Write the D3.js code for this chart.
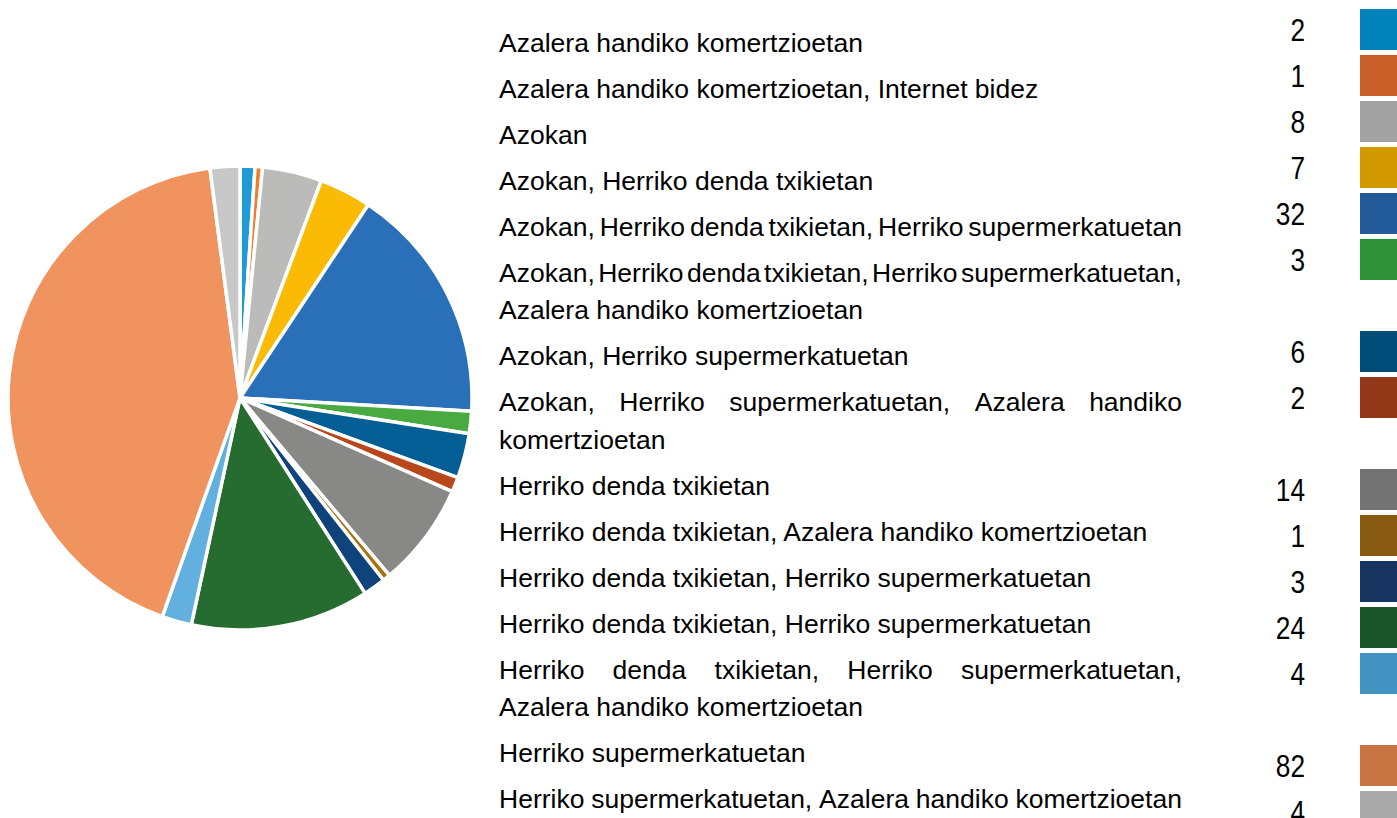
<!DOCTYPE html>
<html>
    <head>
        <meta charset="utf-8">
        <style>
            body {
                margin: 0;
                background: #ffffff;
            }
            svg {
                display: block;
            }
            .lbl, .val {
                font-family: 'Liberation Sans Narrow', 'Arial Narrow', 'Liberation Sans', Arial, sans-serif;
                fill: #000000;
            }
        </style>
    </head>
    <body>
        <svg width="1397" height="818"></svg>

        <script src="https://d3js.org/d3.v7.min.js"></script>
        <script>
            // categories (each entry is the lines of one legend label)
            let labels = [
                ["Azalera handiko komertzioetan"],
                ["Azalera handiko komertzioetan, Internet bidez"],
                ["Azokan"],
                ["Azokan, Herriko denda txikietan"],
                ["Azokan, Herriko denda txikietan, Herriko supermerkatuetan"],
                ["Azokan, Herriko denda txikietan, Herriko supermerkatuetan,", "Azalera handiko komertzioetan"],
                ["Azokan, Herriko supermerkatuetan"],
                ["Azokan, Herriko supermerkatuetan, Azalera handiko", "komertzioetan"],
                ["Herriko denda txikietan"],
                ["Herriko denda txikietan, Azalera handiko komertzioetan"],
                ["Herriko denda txikietan, Herriko supermerkatuetan"],
                ["Herriko denda txikietan, Herriko supermerkatuetan"],
                ["Herriko denda txikietan, Herriko supermerkatuetan,", "Azalera handiko komertzioetan"],
                ["Herriko supermerkatuetan"],
                ["Herriko supermerkatuetan, Azalera handiko komertzioetan"]
            ]

            let values = [2, 1, 8, 7, 32, 3, 6, 2, 14, 1, 3, 24, 4, 82, 4]

            // slice colours in the pie
            let pieColors = ["#1f9ad6", "#ef7d2d", "#bbbbb9", "#fbbb05", "#2a70b8", "#49aa42", "#025e94", "#b8471b",
                             "#888887", "#a9700f", "#0f437b", "#266c31", "#62b0df", "#f0935e", "#c8c8c8"]

            // swatch colours in the table (darker than the pie)
            let swatchColors = ["#0083bb", "#c85f28", "#a2a2a2", "#d29a00", "#235a99", "#2e9037", "#004c79", "#933819",
                                "#737373", "#885a12", "#183561", "#1a5629", "#4393c2", "#c97443", "#aaaaaa"]

            let svg = d3.select("svg")

            // ---- pie ----
            let cx = 240, cy = 398, radius = 232

            let pie = d3.pie()
                .sort(null)
                .value(d => d)

            let arc = d3.arc()
                .innerRadius(0)
                .outerRadius(radius)

            svg.append("g")
                .attr("class", "pie")
                .attr("transform", `translate(${cx},${cy})`)
                .selectAll("path")
                .data(pie(values))
                .join("path")
                .attr("d", arc)
                .style("fill", (d, i) => pieColors[i])
                .style("stroke", "#ffffff")
                .style("stroke-width", 3.5)
                .style("stroke-linejoin", "round")

            // ---- table ----
            let fontSize = 26
            let textLeft = 499, textRight = 1182
            let rowStep = 46, lineStep = 37.5, firstBase = 52

            // measure text so the font can be squeezed to the reference width
            let measure = svg.append("text").attr("class", "lbl").style("font-size", fontSize + "px")
            function textWidth(s) {
                measure.text(s)
                return measure.node().getComputedTextLength()
            }
            let sx = 364 / textWidth("Azalera handiko komertzioetan")
            let boxW = (textRight - textLeft) / sx
            let spaceW = textWidth("a b") - textWidth("ab")

            // label positions
            let labelRows = []
            let base = firstBase
            labels.forEach((lines, i) => {
                lines.forEach((line, j) => {
                    labelRows.push({ text: line, y: base + j * lineStep, justify: j < lines.length - 1 })
                })
                base += rowStep + (lines.length - 1) * lineStep
            })

            let lblGroup = svg.append("g")
                .attr("transform", `translate(${textLeft},0) scale(${sx},1)`)

            labelRows.forEach(r => {
                let words = r.text.split(" ")
                let widths = words.map(w => textWidth(w))
                let natural = d3.sum(widths) + spaceW * (words.length - 1)
                let t = lblGroup.append("text")
                    .attr("class", "lbl")
                    .attr("y", r.y)
                    .style("font-size", fontSize + "px")
                if ((r.justify || natural > boxW) && words.length > 1) {
                    // spread (or squeeze) the words over the full column width
                    let gap = (boxW - d3.sum(widths)) / (words.length - 1)
                    let x = 0
                    words.forEach((w, k) => {
                        t.append("tspan").attr("x", x).text(w)
                        x += widths[k] + gap
                    })
                } else {
                    t.attr("x", 0).text(r.text)
                }
            })

            measure.remove()

            // swatches and values, one slot per label line
            let slotStep = 46, slotTop = 9, swatchH = 41
            let slots = []
            let s = 0
            labels.forEach((lines, i) => {
                slots.push(s)
                s += lines.length
            })

            let rows = values.map((v, i) => ({ value: v, top: slotTop + slots[i] * slotStep, color: swatchColors[i] }))

            svg.append("g")
                .selectAll("rect")
                .data(rows)
                .join("rect")
                .attr("x", 1360)
                .attr("y", d => d.top)
                .attr("width", 50)
                .attr("height", swatchH)
                .style("fill", d => d.color)

            svg.append("g")
                .selectAll("text")
                .data(rows)
                .join("text")
                .attr("class", "val")
                .attr("transform", d => `translate(1305,${d.top + swatchH / 2 + 11.5}) scale(${sx * 0.83},1)`)
                .attr("text-anchor", "end")
                .style("font-size", "31px")
                .text(d => d.value)
        </script>
    </body>
</html>
